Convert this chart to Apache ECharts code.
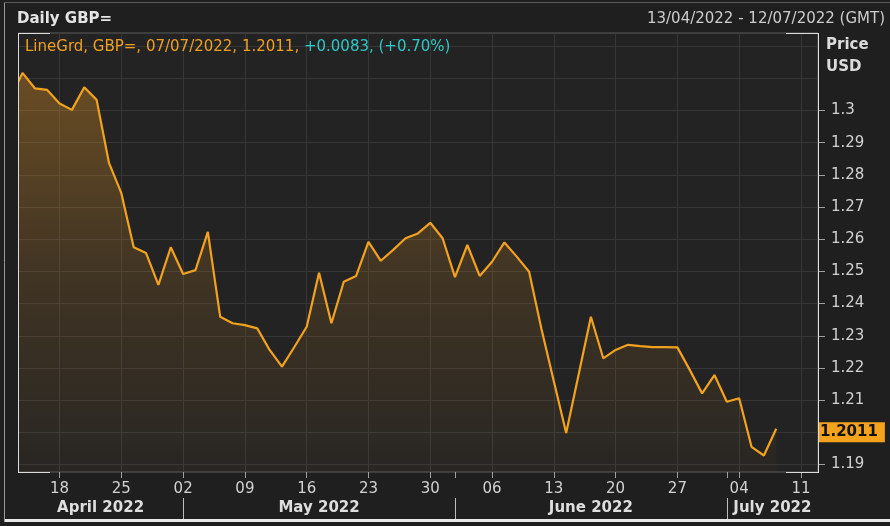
<!DOCTYPE html>
<html><head><meta charset="utf-8">
<script src="https://cdn.jsdelivr.net/npm/echarts@6/dist/echarts.min.js"></script>
<style>html,body{margin:0;padding:0;background:#1f1f1f;}#c{width:890px;height:526px;}</style>
</head><body><div id="c"></div>
<script>
// ---- data ----
const dates = [
  '2022-04-12','2022-04-13','2022-04-14','2022-04-15','2022-04-18','2022-04-19','2022-04-20','2022-04-21','2022-04-22',
  '2022-04-25','2022-04-26','2022-04-27','2022-04-28','2022-04-29',
  '2022-05-02','2022-05-03','2022-05-04','2022-05-05','2022-05-06','2022-05-09','2022-05-10','2022-05-11','2022-05-12','2022-05-13',
  '2022-05-16','2022-05-17','2022-05-18','2022-05-19','2022-05-20','2022-05-23','2022-05-24','2022-05-25','2022-05-26','2022-05-27',
  '2022-05-30','2022-05-31',
  '2022-06-01','2022-06-02','2022-06-03','2022-06-06','2022-06-07','2022-06-08','2022-06-09','2022-06-10','2022-06-13','2022-06-14',
  '2022-06-15','2022-06-16','2022-06-17','2022-06-20','2022-06-21','2022-06-22','2022-06-23','2022-06-24','2022-06-27','2022-06-28',
  '2022-06-29','2022-06-30',
  '2022-07-01','2022-07-04','2022-07-05','2022-07-06','2022-07-07'
];
const prices = [
  1.3035,
  1.3117, 1.3069, 1.3064, 1.3022, 1.3002, 1.3072, 1.3033, 1.2837, 1.2743, 1.2575, 1.2557, 1.2458, 1.2575,
  1.2492, 1.2504, 1.2623, 1.2359, 1.2339, 1.2333, 1.2323, 1.2256, 1.2204, 1.2265, 1.2328, 1.2496, 1.2339,
  1.2468, 1.2486, 1.2592, 1.2533, 1.2567, 1.2603, 1.2618, 1.2651, 1.2603,
  1.2482, 1.2582, 1.2486, 1.2530, 1.2590, 1.2546, 1.2499, 1.2321, 1.2159, 1.1998, 1.2178, 1.2359, 1.2230,
  1.2256, 1.2272, 1.2268, 1.2265, 1.2265, 1.2264, 1.2194, 1.2121, 1.2178,
  1.2095, 1.2106, 1.1955, 1.1928, 1.2011
];
const weekTickLabels = ['18','25','02','09','16','23','30','06','13','20','27','04','11'];
const yTickValues = [1.30,1.29,1.28,1.27,1.26,1.25,1.24,1.23,1.22,1.21,1.19];
const yGridValues = [1.32,1.31,1.30,1.29,1.28,1.27,1.26,1.25,1.24,1.23,1.22,1.21,1.20,1.19];
const monthNames = ['April 2022','May 2022','June 2022','July 2022'];
const headerTitle = 'Daily GBP=';
const rangeText = '13/04/2022 - 12/07/2022 (GMT)';
const seriesName = 'LineGrd, GBP=';

// ---- derived ----
const FONT = 'DejaVu Sans';
const xMin = 0.636, xMax = 65.38;
const yMin = 1.18767, yMax = 1.32408;
const firstMonday = 4;
const weekTicks = weekTickLabels.map((_, k) => firstMonday + 5 * k);
const monthStarts = [];
for (let i = 1; i < dates.length; i++) if (dates[i].slice(5, 7) !== dates[i - 1].slice(5, 7)) monthStarts.push(i);
const bounds = [xMin].concat(monthStarts, [xMax]);
const monthCenters = monthNames.map((_, k) => (bounds[k] + bounds[k + 1]) / 2);
const data = prices.map((p, i) => [i, p]);
const last = prices[prices.length - 1], prev = prices[prices.length - 2];
const chg = last - prev;
const lastDate = dates[dates.length - 1].split('-').reverse().join('/');
const legendText = '{o|' + seriesName + ', ' + lastDate + ', ' + last.toFixed(4) + ', }{c|' +
  (chg >= 0 ? '+' : '') + chg.toFixed(4) + ', (' + (chg >= 0 ? '+' : '') + (chg / prev * 100).toFixed(2) + '%)}';

const chart = echarts.init(document.getElementById('c'), null, {renderer: 'canvas'});
const lbl = {fontFamily: FONT, fontSize: 15, color: '#d2d2d2'};
const L = 18, R = 818, T = 33, B = 472;
chart.setOption({
  backgroundColor: '#1f1f1f',
  animation: false,
  title: [
    {text: headerTitle, left: 17, top: 10, padding: 0, textStyle: {fontFamily: FONT, fontSize: 15, fontWeight: 'bold', color: '#e4e4e4', lineHeight: 18}},
    {text: rangeText, right: 5, top: 10, padding: 0, textStyle: {fontFamily: FONT, fontSize: 15, fontWeight: 'normal', color: '#cccccc', lineHeight: 18}},
    {text: legendText, left: 25, top: 38, padding: 0, textStyle: {fontFamily: FONT, fontSize: 15, fontWeight: 'normal', lineHeight: 18,
      rich: {o: {fontFamily: FONT, fontSize: 15, fontWeight: 'normal', color: '#f0a020'}, c: {fontFamily: FONT, fontSize: 15, fontWeight: 'normal', color: '#2ec8c8'}}}},
    {text: 'Price\nUSD', left: 826, top: 34, padding: 0, textStyle: {fontFamily: FONT, fontSize: 15, fontWeight: 'bold', color: '#dcdcdc', lineHeight: 22}}
  ],
  grid: {left: L, right: 890 - R, top: T, bottom: 526 - B, show: true, backgroundColor: '#232323', borderColor: '#5c5c5c', borderWidth: 1},
  xAxis: [
    {type: 'value', min: xMin, max: xMax, position: 'bottom',
      axisLine: {show: false},
      axisTick: {customValues: weekTicks, length: 6, lineStyle: {color: '#a0a0a0'}},
      axisLabel: Object.assign({customValues: weekTicks, margin: 10,
        formatter: v => weekTickLabels[Math.round((v - firstMonday) / 5)]}, lbl),
      splitLine: {show: true, lineStyle: {color: '#363636', width: 1}}},
    {type: 'value', min: xMin, max: xMax, position: 'bottom', offset: 26,
      axisLine: {show: false},
      axisTick: {customValues: monthStarts, length: 22, lineStyle: {color: '#bdbdbd'}},
      axisLabel: Object.assign({customValues: monthCenters, margin: 3, fontWeight: 'bold',
        formatter: v => { let b = 0; monthCenters.forEach((c, k) => { if (Math.abs(c - v) < Math.abs(monthCenters[b] - v)) b = k; }); return monthNames[b]; }}, lbl, {color: '#dedede'}),
      splitLine: {show: false}},
    {type: 'value', min: xMin, max: xMax, position: 'bottom', offset: 0,
      axisLine: {show: false},
      axisTick: {customValues: monthStarts.slice(1), length: 6, lineStyle: {color: '#a0a0a0'}},
      axisLabel: {show: false}, splitLine: {show: false}}
  ],
  yAxis: [
    {type: 'value', position: 'right', min: yMin, max: yMax,
      axisLine: {show: false},
      axisTick: {customValues: yTickValues, length: 7, lineStyle: {color: '#a0a0a0'}},
      axisLabel: Object.assign({customValues: yTickValues, margin: 13, formatter: v => String(+(+v).toFixed(2))}, lbl),
      splitLine: {show: false}},
    {type: 'value', position: 'right', min: yMin, max: yMax,
      axisLine: {show: false},
      axisTick: {show: false, customValues: yGridValues},
      axisLabel: {show: false},
      splitLine: {show: true, lineStyle: {color: '#363636', width: 1}}}
  ],
  series: [{
    type: 'line', name: seriesName, xAxisIndex: 0, yAxisIndex: 0, data: data,
    symbol: 'none', clip: true,
    lineStyle: {color: '#f2a21e', width: 2.2},
    areaStyle: {color: new echarts.graphic.LinearGradient(0, 0, 0, 1, [
      {offset: 0, color: 'rgba(228,148,36,0.52)'},
      {offset: 0.5, color: 'rgba(228,148,36,0.22)'},
      {offset: 1, color: 'rgba(228,148,36,0.04)'}
    ])},
    markLine: {silent: true, symbol: 'none', lineStyle: {width: 0, color: 'rgba(0,0,0,0)'},
      data: [{yAxis: last}],
      label: {show: true, position: 'end', distance: 0, formatter: last.toFixed(4),
        backgroundColor: '#f5a21c', color: '#121212', fontFamily: FONT, fontSize: 15, fontWeight: 'bold', padding: [3, 7, 2, 2]}}
  }],
  graphic: [
    {type: 'rect', shape: {x: 5, y: T - 2, width: L - 5, height: B - T + 4}, style: {fill: '#1f1f1f'}, z: 99},
    {type: 'line', shape: {x1: L + 0.5, y1: T, x2: L + 0.5, y2: B}, style: {stroke: '#dcdcdc', lineWidth: 1}, z: 100},
    {type: 'line', shape: {x1: R + 0.5, y1: T, x2: R + 0.5, y2: B + 1}, style: {stroke: '#dcdcdc', lineWidth: 1}, z: 100},
    {type: 'line', shape: {x1: L, y1: T + 0.5, x2: L + 32, y2: T + 0.5}, style: {stroke: '#dcdcdc', lineWidth: 1}, z: 100},
    {type: 'line', shape: {x1: R - 32, y1: T + 0.5, x2: R + 1, y2: T + 0.5}, style: {stroke: '#dcdcdc', lineWidth: 1}, z: 100},
    {type: 'line', shape: {x1: L, y1: B + 0.5, x2: L + 32, y2: B + 0.5}, style: {stroke: '#dcdcdc', lineWidth: 1}, z: 100},
    {type: 'line', shape: {x1: R - 32, y1: B + 0.5, x2: R + 1, y2: B + 0.5}, style: {stroke: '#dcdcdc', lineWidth: 1}, z: 100},
    {type: 'line', shape: {x1: 4.5, y1: 3, x2: 4.5, y2: 522}, style: {stroke: '#9a9a9a', lineWidth: 1}, z: 100},
    {type: 'line', shape: {x1: 4, y1: 2.5, x2: 890, y2: 2.5}, style: {stroke: '#5a5a5a', lineWidth: 1}, z: 100},
    {type: 'line', shape: {x1: 5, y1: 520.5, x2: 890, y2: 520.5}, style: {stroke: '#e8e8e8', lineWidth: 3}, z: 100}
  ]
});
</script></body></html>
